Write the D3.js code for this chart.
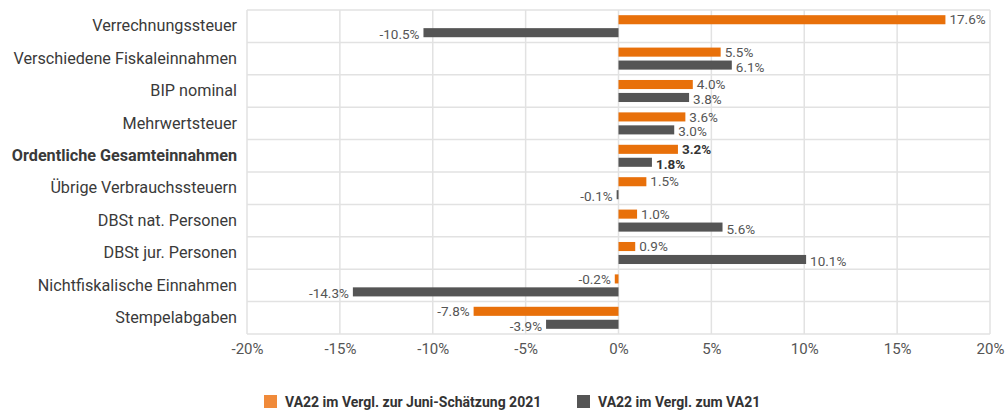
<!DOCTYPE html>
<html><head><meta charset="utf-8">
<script src="https://cdn.jsdelivr.net/npm/d3@7"></script>
<style>
html,body{margin:0;padding:0;background:#fff;}
svg{display:block;font-family:Roboto,"Liberation Sans",sans-serif;}
</style></head>
<body><svg id="chart" width="1007" height="410"></svg>
<script>
const categories = ["Verrechnungssteuer","Verschiedene Fiskaleinnahmen","BIP nominal","Mehrwertsteuer","Ordentliche Gesamteinnahmen","Übrige Verbrauchssteuern","DBSt nat. Personen","DBSt jur. Personen","Nichtfiskalische Einnahmen","Stempelabgaben"];
const seriesNames = ["VA22 im Vergl. zur Juni-Schätzung 2021","VA22 im Vergl. zum VA21"];
const juniValues = [17.6, 5.5, 4.0, 3.6, 3.2, 1.5, 1.0, 0.9, -0.2, -7.8];
const va21Values = [-10.5, 6.1, 3.8, 3.0, 1.8, -0.1, 5.6, 10.1, -14.3, -3.9];
const tickValues = [-20,-15,-10,-5,0,5,10,15,20];
const boldCategory = "Ordentliche Gesamteinnahmen";

const W = 1007, H = 410;
const m = {top:10, right:17, bottom:76, left:247};
const svg = d3.select("#chart");
const g = svg.append("g").attr("transform",`translate(${m.left},${m.top})`);
const iw = W - m.left - m.right, ih = H - m.top - m.bottom;

const x = d3.scaleLinear().domain([-20,20]).range([0, iw]);
const y = d3.scaleBand().domain(categories).range([0, ih]);
const sub = d3.scaleBand().domain(seriesNames)
  .range([y.bandwidth()*0.16, y.bandwidth()*0.84]).paddingInner(0.3);
const barColors = ["#E8700A","#555555"];
const legendColors = ["#F08A3A","#555555"];

// grid
const grid = g.append("g").attr("stroke","#e2e2e2").attr("stroke-width",1.5);
categories.forEach(c=>{
  grid.append("line").attr("x1",0).attr("x2",iw).attr("y1",y(c)).attr("y2",y(c));
});
grid.append("line").attr("x1",0).attr("x2",iw).attr("y1",ih).attr("y2",ih);
tickValues.forEach(t=>{
  grid.append("line").attr("x1",x(t)).attr("x2",x(t)).attr("y1",0).attr("y2",ih);
});

// x axis
const xAxis = g.append("g").attr("transform",`translate(0,${ih})`)
  .call(d3.axisBottom(x).tickValues(tickValues).tickSize(0).tickPadding(7).tickFormat(d=>d+"%"));
xAxis.select(".domain").remove();
xAxis.selectAll("text").attr("font-size",15).attr("fill","#555").attr("font-family","Roboto,sans-serif").attr("dy","0.85em");

// y axis labels
const yAxis = g.append("g").call(d3.axisLeft(y).tickSize(0).tickPadding(10));
yAxis.select(".domain").remove();
yAxis.selectAll("text").attr("font-size",16.2).attr("fill","#3a3a3a")
  .attr("font-family","Roboto,sans-serif")
  .attr("font-weight",d=>d===boldCategory?"bold":"normal");

// bars
const data = categories.map((c,i)=>({cat:c, vals:[juniValues[i], va21Values[i]]}));
const rows = g.selectAll(".row").data(data).join("g").attr("transform",d=>`translate(0,${y(d.cat)})`);
const labelShift = [-0.8, 1.2];
seriesNames.forEach((s,k)=>{
  rows.append("rect")
    .attr("x",d=>x(Math.min(0,d.vals[k])))
    .attr("y",sub(s))
    .attr("width",d=>Math.max(1.5, Math.abs(x(d.vals[k])-x(0))))
    .attr("height",sub.bandwidth())
    .attr("fill",barColors[k]);
  rows.append("text")
    .attr("x",d=>d.vals[k]>=0 ? x(d.vals[k])+4 : x(d.vals[k])-4)
    .attr("y",sub(s)+sub.bandwidth()/2+labelShift[k])
    .attr("dy","0.4em")
    .attr("text-anchor",d=>d.vals[k]>=0?"start":"end")
    .attr("font-size",13.5)
    .attr("font-weight",d=>d.cat===boldCategory?"bold":"normal")
    .attr("fill",d=>d.cat===boldCategory?"#333":"#555")
    .text(d=>d.vals[k].toFixed(1)+"%");
});

// legend
const legendX = [264, 577];
const lg = svg.append("g");
seriesNames.forEach((s,k)=>{
  lg.append("rect").attr("x",legendX[k]).attr("y",395).attr("width",13).attr("height",13).attr("fill",legendColors[k]);
  lg.append("text").attr("x",legendX[k]+21).attr("y",407).attr("font-size",14).attr("font-weight","bold")
    .attr("fill","#333").text(s);
});
</script></body></html>
